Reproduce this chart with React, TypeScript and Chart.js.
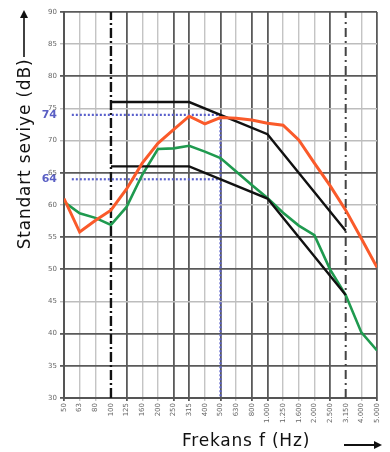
import React, { useEffect, useRef } from "react";
import { Chart, registerables } from "chart.js";

Chart.register(...registerables);

const categories = ["50", "63", "80", "100", "125", "160", "200", "250", "315", "400", "500", "630", "800", "1.000", "1.250", "1.600", "2.000", "2.500", "3.150", "4.000", "5.000"];
const orangeValues = [61, 55.8, 57.6, 59.2, 62.5, 66.5, 69.6, 71.7, 73.8, 72.6, 73.6, 73.5, 73.2, 72.7, 72.4, 70.1, 66.5, 63, 59.2, 54.8, 50.3];
const greenValues = [60.5, 58.7, 58, 56.9, 59.7, 64.7, 68.7, 68.8, 69.2, 68.3, 67.3, 65.2, 63.1, 61.1, 58.8, 56.8, 55.3, 50, 46, 40.2, 37.4];
const limitFreqs = ["100", "315", "1.000", "3.150"];
const upperLimitValues = [76, 76, 71, 56];
const lowerLimitValues = [66, 66, 61, 46];
const refLevels = [74, 64];
const refFreq = "500";
const refStartFreqIndex = 0.5;
const rangeFreqs = ["100", "3.150"];
const yTicks = [30, 35, 40, 45, 50, 55, 60, 65, 70, 75, 80, 85, 90];
const darkYLines = [90, 80, 65, 55, 50, 40, 35, 30];
const darkXLines = ["50", "125", "250", "315", "500", "800", "1.000", "2.500", "5.000"];

const FONT = "'DejaVu Sans', sans-serif";

export default function App() {
  const ref = useRef<HTMLCanvasElement | null>(null);

  useEffect(() => {
    if (!ref.current) return;
    const idx = (f: string) => categories.indexOf(f);
    const refX = idx(refFreq);
    const yMin = yTicks[0];
    const yMax = yTicks[yTicks.length - 1];

    const datasets: any[] = [
      {
        data: orangeValues.map((v, i) => ({ x: i, y: v })),
        borderColor: "#fa5a2a",
        borderWidth: 3,
        order: 1,
      },
      {
        data: greenValues.map((v, i) => ({ x: i, y: v })),
        borderColor: "#1f9a4f",
        borderWidth: 2.6,
        order: 3,
      },
      {
        data: limitFreqs.map((f, i) => ({ x: idx(f), y: upperLimitValues[i] })),
        borderColor: "#111",
        borderWidth: 2.4,
        order: 2,
      },
      {
        data: limitFreqs.map((f, i) => ({ x: idx(f), y: lowerLimitValues[i] })),
        borderColor: "#111",
        borderWidth: 2.4,
        order: 2,
      },
      {
        data: [
          { x: refStartFreqIndex, y: refLevels[0] },
          { x: refX, y: refLevels[0] },
          { x: refX, y: yMin },
        ],
        borderColor: "#5a60cc",
        borderWidth: 2.2,
        borderDash: [2, 2],
        order: 5,
      },
      {
        data: [
          { x: refStartFreqIndex, y: refLevels[1] },
          { x: refX, y: refLevels[1] },
        ],
        borderColor: "#5a60cc",
        borderWidth: 2.2,
        borderDash: [2, 2],
        order: 5,
      },
      {
        data: [
          { x: idx(rangeFreqs[0]), y: yMin },
          { x: idx(rangeFreqs[0]), y: yMax },
        ],
        borderColor: "#111",
        borderWidth: 2.4,
        borderDash: [10, 3, 2, 3],
        order: 6,
      },
      {
        data: [
          { x: idx(rangeFreqs[1]), y: yMin },
          { x: idx(rangeFreqs[1]), y: yMax },
        ],
        borderColor: "#444",
        borderWidth: 2,
        borderDash: [9, 4, 2, 4],
        order: 6,
      },
    ].map((d) => ({ ...d, pointRadius: 0, tension: 0, fill: false }));

    const chart = new Chart(ref.current, {
      type: "line",
      data: { datasets },
      options: {
        animation: false,
        responsive: false,
        maintainAspectRatio: false,
        layout: { padding: { top: 12, right: 13, left: 0, bottom: 0 } },
        plugins: { legend: { display: false }, tooltip: { enabled: false } },
        scales: {
          x: {
            type: "linear",
            min: 0,
            max: categories.length - 1,
            afterBuildTicks: (s: any) => {
              s.ticks = categories.map((_, i) => ({ value: i }));
            },
            afterFit: (s: any) => {
              s.height = 54;
            },
            ticks: {
              autoSkip: false,
              minRotation: 90,
              maxRotation: 90,
              padding: 2,
              color: "#666",
              font: { size: 7, family: FONT },
              callback: (v: any) => categories[Math.round(Number(v))] ?? "",
            },
            grid: {
              tickLength: 3,
              color: (ctx: any) => {
                const lab = categories[ctx.tick?.value];
                if (rangeFreqs.includes(lab)) return "rgba(0,0,0,0)";
                return darkXLines.includes(lab) ? "#5a5a5a" : "#c4c4c4";
              },
              lineWidth: (ctx: any) => {
                const lab = categories[ctx.tick?.value];
                return darkXLines.includes(lab) ? 1.8 : 1.4;
              },
            },
            border: { display: true, color: "#555", width: 2 },
          },
          y: {
            type: "linear",
            min: yMin,
            max: yMax,
            afterBuildTicks: (s: any) => {
              s.ticks = [...yTicks, ...refLevels].sort((a, b) => a - b).map((v) => ({ value: v }));
            },
            afterFit: (s: any) => {
              s.width = 64;
            },
            ticks: {
              autoSkip: false,
              padding: 3,
              color: (ctx: any) => (refLevels.includes(ctx.tick?.value) ? "#5a5fc4" : "#666"),
              font: (ctx: any) =>
                refLevels.includes(ctx.tick?.value)
                  ? { size: 11, weight: "bold", family: FONT }
                  : { size: 7, family: FONT },
              callback: (v: any) => String(v),
            },
            grid: {
              tickLength: 4,
              color: (ctx: any) => {
                const v = ctx.tick?.value;
                if (refLevels.includes(v)) return "rgba(0,0,0,0)";
                return darkYLines.includes(v) ? "#5a5a5a" : "#bdbdbd";
              },
              lineWidth: (ctx: any) => (darkYLines.includes(ctx.tick?.value) ? 1.8 : 1.4),
            },
            border: { display: true, color: "#555", width: 2 },
          },
        },
      } as any,
    });
    return () => chart.destroy();
  }, []);

  return (
    <div style={{ position: "fixed", left: 0, top: 0, width: 390, height: 452, background: "#fff", overflow: "hidden" }}>
      <canvas ref={ref} width={390} height={452} style={{ position: "absolute", left: 0, top: 0, width: 390, height: 452 }} />
      <div
        style={{
          position: "absolute",
          left: 24,
          top: 154,
          transform: "translate(-50%, -50%) rotate(-90deg)",
          whiteSpace: "nowrap",
          fontFamily: FONT,
          fontSize: 17,
          letterSpacing: 0.8,
          color: "#111",
        }}
      >
        Standart seviye (dB)
      </div>
      <svg style={{ position: "absolute", left: 17, top: 10, width: 14, height: 48 }} viewBox="0 0 14 48">
        <line x1="7" y1="47" x2="7" y2="6" stroke="#111" strokeWidth="1.6" />
        <polygon points="7,0 3,8 11,8" fill="#111" />
      </svg>
      <div
        style={{
          position: "absolute",
          left: 246,
          top: 440,
          transform: "translate(-50%, -50%)",
          whiteSpace: "nowrap",
          fontFamily: FONT,
          fontSize: 17,
          letterSpacing: 0.8,
          color: "#111",
        }}
      >
        Frekans f (Hz)
      </div>
      <svg style={{ position: "absolute", left: 343, top: 438, width: 40, height: 14 }} viewBox="0 0 40 14">
        <line x1="1" y1="7" x2="32" y2="7" stroke="#111" strokeWidth="2" />
        <polygon points="39,7 31,3 31,11" fill="#111" />
      </svg>
    </div>
  );
}
